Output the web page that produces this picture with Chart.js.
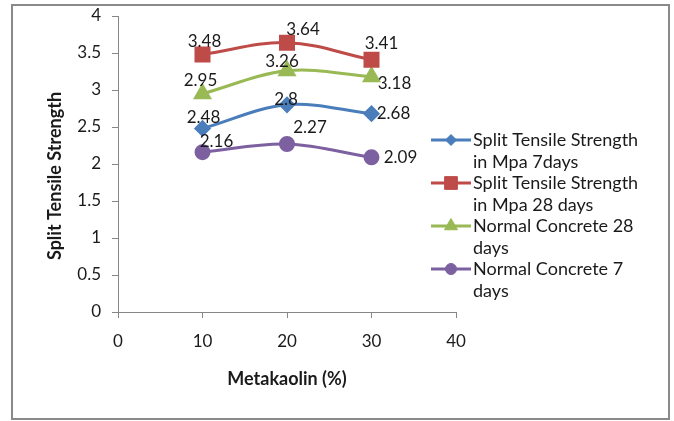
<!DOCTYPE html>
<html>
<head>
<meta charset="utf-8">
<script src="https://cdn.jsdelivr.net/npm/chart.js@4.4.1/dist/chart.umd.min.js"></script>
<style>
  html, body { margin: 0; padding: 0; background: #ffffff; }
  canvas { display: block; }
</style>
</head>
<body>
<canvas id="chart" width="674" height="421"></canvas>
<script>
// Metakaolin content (%) on the x axis
const metakaolin = [10, 20, 30];

// Split tensile strength (MPa)
const split7 = [2.48, 2.8, 2.68];
const split28 = [3.48, 3.64, 3.41];
const normal28 = [2.95, 3.26, 3.18];
const normal7 = [2.16, 2.27, 2.09];

// Legend entries, broken over two lines each
const seriesNames = [
  ["Split Tensile Strength", "in Mpa 7days"],
  ["Split Tensile Strength", "in Mpa 28 days"],
  ["Normal Concrete 28", "days"],
  ["Normal Concrete 7", "days"]
];

const xTicks = [0, 10, 20, 30, 40];
const yTicks = [0, 0.5, 1, 1.5, 2, 2.5, 3, 3.5, 4];

const xTitle = "Metakaolin (%)";
const yTitle = "Split Tensile Strength";

const FONT = "Lato, 'Open Sans', sans-serif";
const TEXT = "#1a1a1a";
const AXIS = "#868686";

const styles = [
  { color: "#4A7EBB", point: "rectRot", r: 6.5, lr: 5.5 },
  { color: "#BE4B48", point: "rect", r: 9.2, lr: 9 },
  { color: "#98B954", point: "triangle", r: 8, lr: 7.5 },
  { color: "#7D60A0", point: "circle", r: 6.5, lr: 5.5 }
];

// value label offsets (dx, dy) from each point
const labelOffsets = [
  [[1, -11], [-1, -5], [22, 0]],
  [[2, -13], [16, -13], [10, -16]],
  [[-2, -13], [-5, -9], [23, 7]],
  [[14, -11], [23, -17], [29, 0]]
];

const seriesValues = [split7, split28, normal28, normal7];

const datasets = seriesValues.map((vals, i) => ({
  label: seriesNames[i].join(" "),
  data: metakaolin.map((x, j) => ({ x: x, y: vals[j] })),
  borderColor: styles[i].color,
  backgroundColor: styles[i].color,
  pointBackgroundColor: styles[i].color,
  pointBorderColor: styles[i].color,
  pointStyle: styles[i].point,
  pointRadius: styles[i].r,
  pointHoverRadius: styles[i].r,
  borderWidth: 3,
  tension: 0.35,
  fill: false
}));

const decorations = {
  id: "decorations",
  beforeDraw(chart) {
    const ctx = chart.ctx;
    ctx.save();
    ctx.fillStyle = "#ffffff";
    ctx.fillRect(0, 0, chart.width, chart.height);
    ctx.strokeStyle = "#8a8a8a";
    ctx.lineWidth = 2;
    ctx.strokeRect(12, 5, 657, 414);
    ctx.restore();
  },
  afterDatasetsDraw(chart) {
    const ctx = chart.ctx;
    ctx.save();
    ctx.font = "17px " + FONT;
    ctx.fillStyle = TEXT;
    ctx.textAlign = "center";
    ctx.textBaseline = "middle";
    chart.data.datasets.forEach((ds, i) => {
      const meta = chart.getDatasetMeta(i);
      meta.data.forEach((pt, j) => {
        const off = labelOffsets[i][j];
        ctx.fillText(String(seriesValues[i][j]), pt.x + off[0], pt.y + off[1]);
      });
    });
    ctx.restore();
  },
  afterDraw(chart) {
    const ctx = chart.ctx;
    const area = chart.chartArea;
    ctx.save();
    // axis titles
    ctx.fillStyle = TEXT;
    ctx.font = "bold 18px " + FONT;
    ctx.textAlign = "center";
    ctx.textBaseline = "middle";
    ctx.fillText(xTitle, (area.left + area.right) / 2, 379);
    ctx.save();
    ctx.translate(55, 176);
    ctx.rotate(-Math.PI / 2);
    ctx.fillText(yTitle, 0, 0);
    ctx.restore();

    // legend
    ctx.font = "18px " + FONT;
    ctx.textAlign = "left";
    const startY = 140;
    const entryGap = 43;
    const lineGap = 22;
    chart.data.datasets.forEach((ds, i) => {
      const y = startY + i * entryGap;
      ctx.strokeStyle = styles[i].color;
      ctx.lineWidth = 3;
      ctx.beginPath();
      ctx.moveTo(431, y);
      ctx.lineTo(471, y);
      ctx.stroke();
      ctx.fillStyle = styles[i].color;
      ctx.strokeStyle = styles[i].color;
      ctx.lineWidth = 1;
      Chart.helpers.drawPoint(ctx, { pointStyle: styles[i].point, radius: styles[i].lr, rotation: 0, borderWidth: 1 }, 451, y);
      ctx.fillStyle = TEXT;
      seriesNames[i].forEach((line, k) => {
        ctx.fillText(line, 473, y + k * lineGap);
      });
    });
    ctx.restore();
  }
};

new Chart(document.getElementById("chart"), {
  type: "line",
  data: { datasets: datasets },
  options: {
    responsive: false,
    animation: false,
    events: [],
    layout: { padding: { left: 0, top: 16, right: 218, bottom: 0 } },
    plugins: {
      legend: { display: false },
      tooltip: { enabled: false },
      title: { display: false }
    },
    scales: {
      x: {
        type: "linear",
        min: 0,
        max: 40,
        afterBuildTicks(scale) { scale.ticks = xTicks.map(v => ({ value: v })); },
        afterFit(scale) { scale.height = 109; scale.paddingLeft = 0; scale.paddingRight = 0; },
        border: { display: true, color: AXIS, width: 1 },
        grid: { display: true, drawOnChartArea: false, drawTicks: true, tickLength: 6, color: AXIS },
        ticks: { color: TEXT, font: { family: FONT, size: 17 }, padding: 13, maxRotation: 0, callback: v => String(v) }
      },
      y: {
        type: "linear",
        min: 0,
        max: 4,
        afterBuildTicks(scale) { scale.ticks = yTicks.map(v => ({ value: v })); },
        afterFit(scale) { scale.width = 118; scale.paddingTop = 0; scale.paddingBottom = 0; },
        border: { display: true, color: AXIS, width: 1 },
        grid: { display: true, drawOnChartArea: false, drawTicks: true, tickLength: 6, color: AXIS },
        ticks: { color: TEXT, font: { family: FONT, size: 17 }, padding: 11, callback: v => String(v) }
      }
    }
  },
  plugins: [decorations]
});
</script>
</body>
</html>
